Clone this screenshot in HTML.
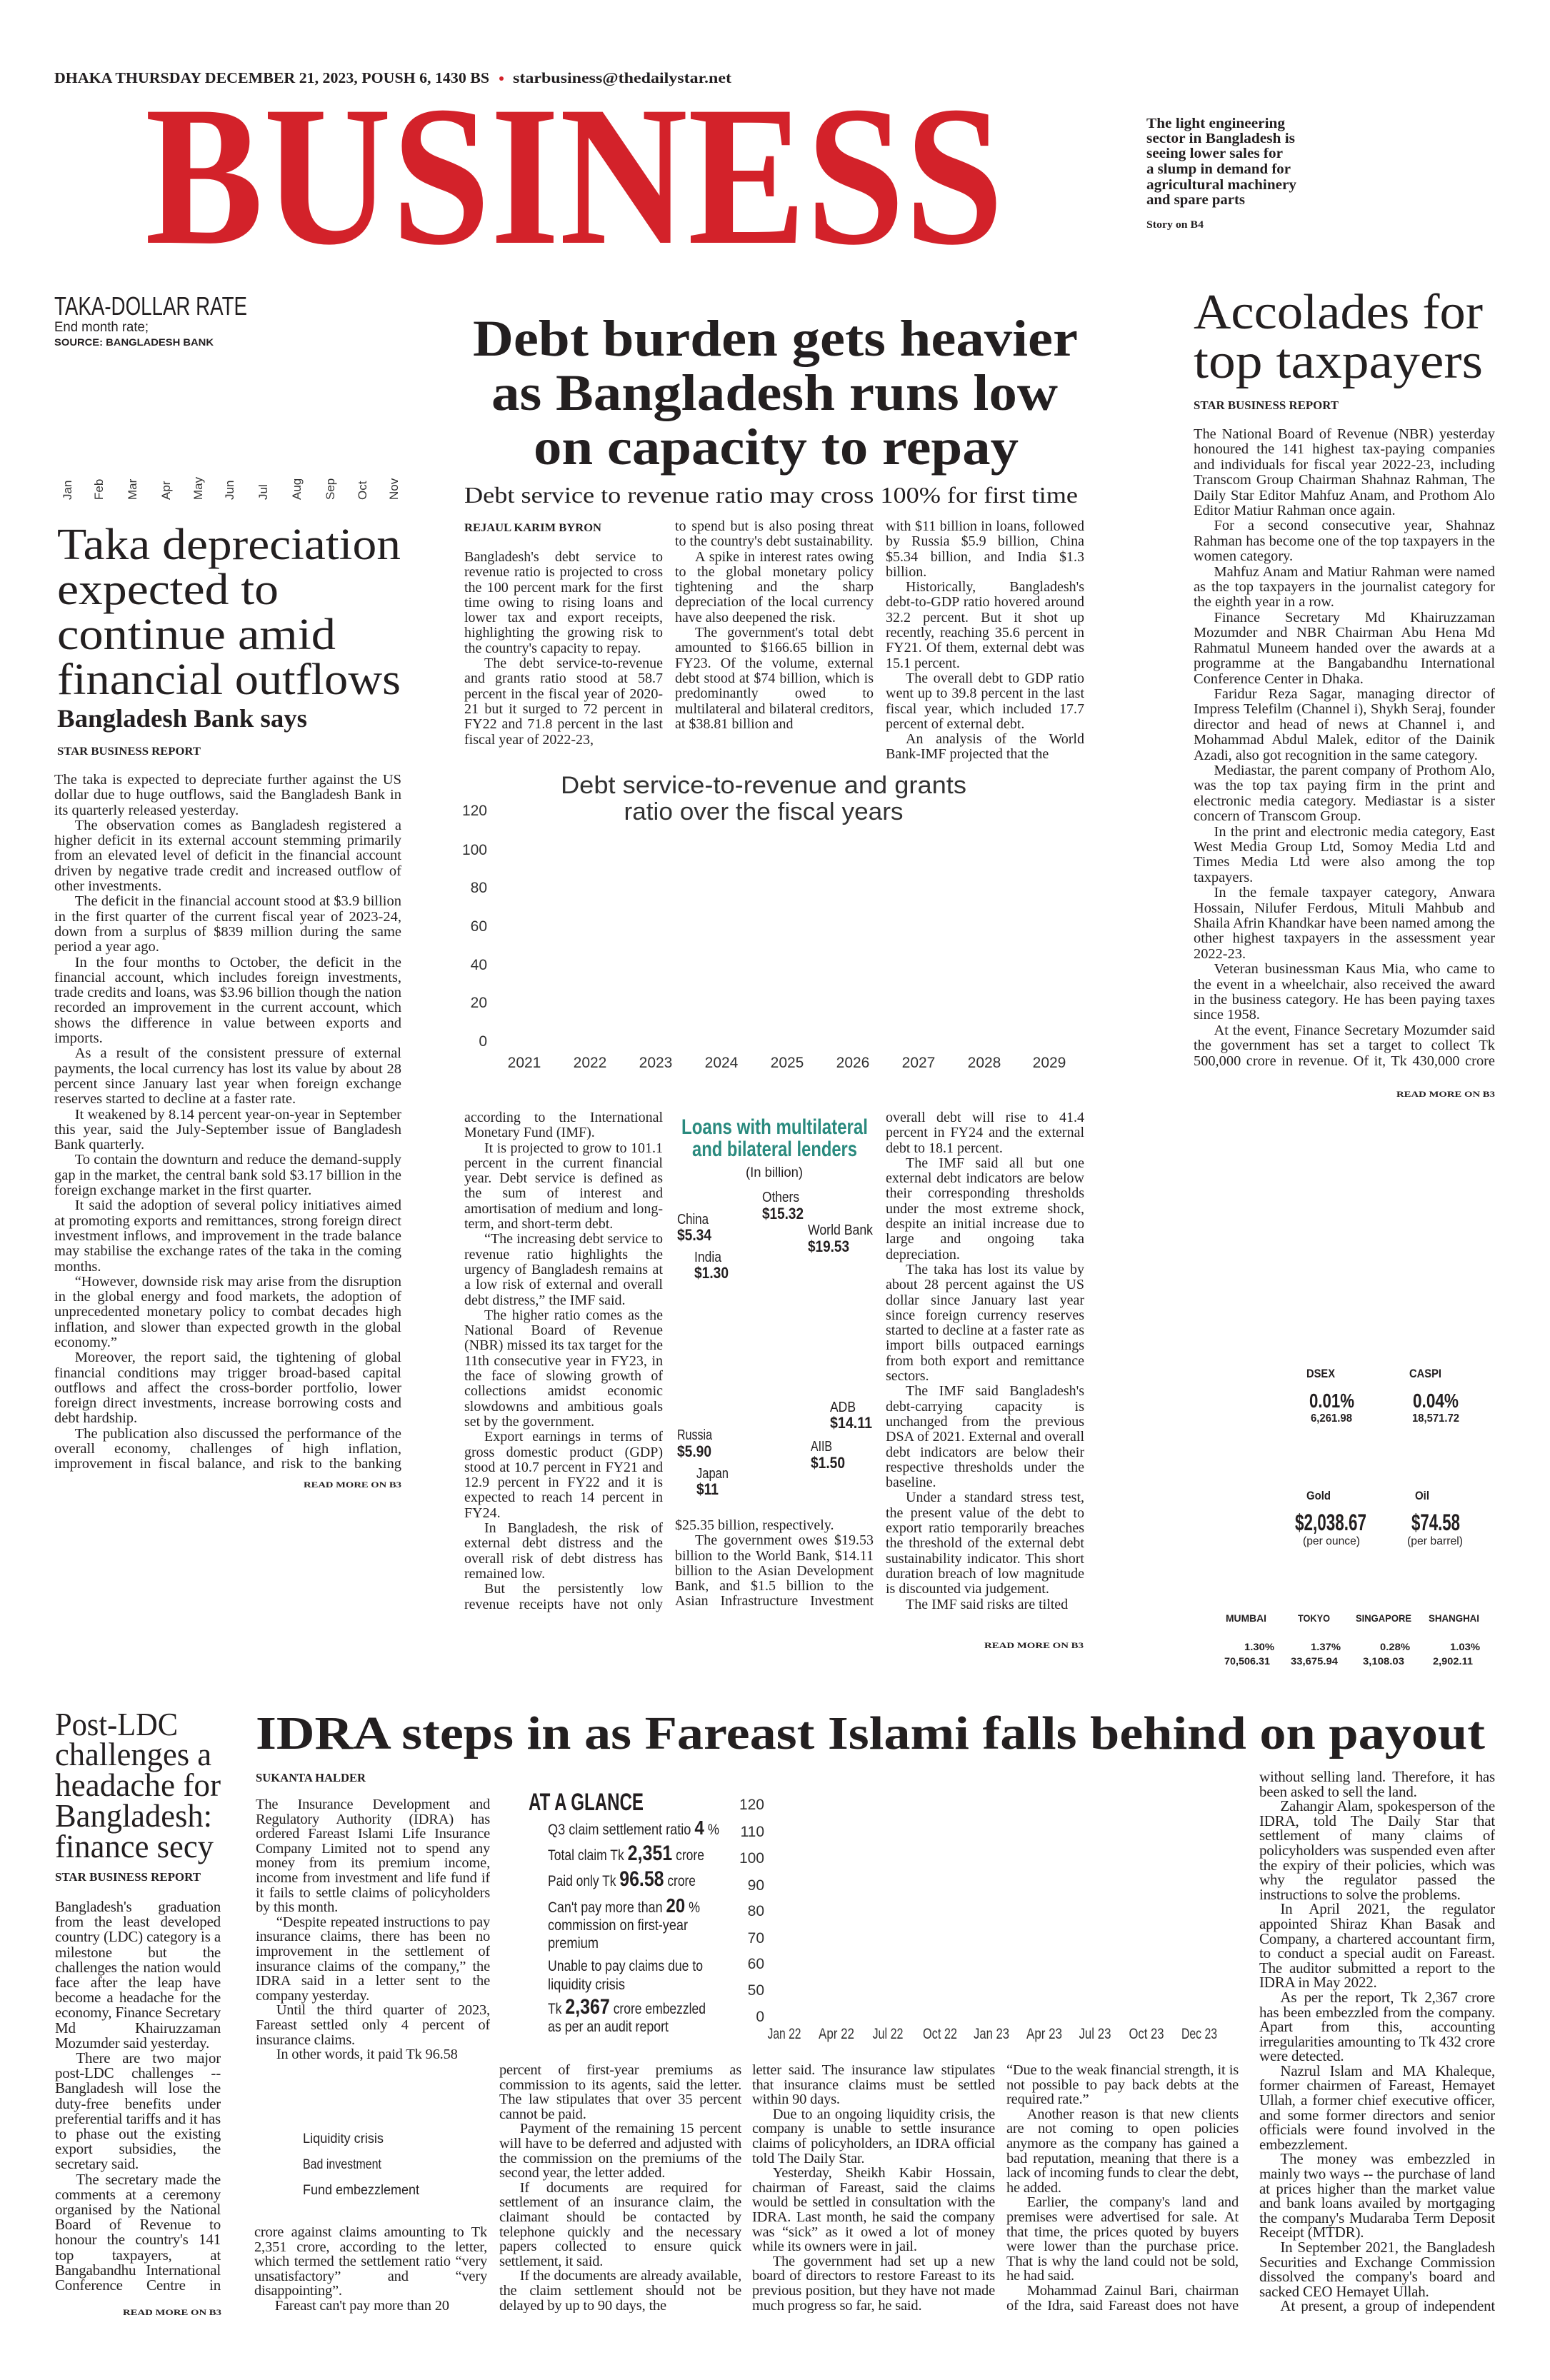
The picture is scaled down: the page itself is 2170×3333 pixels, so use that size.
<!DOCTYPE html>
<html><head><meta charset="utf-8">
<style>
html,body{margin:0;padding:0;background:#fff;}
body{width:2170px;height:3333px;position:relative;overflow:hidden;color:#231f20;}
.c{position:absolute;font-family:"Liberation Serif",serif;font-size:20px;line-height:21.3px;text-align:justify;overflow:hidden;color:#231f20;}
.c p{margin:0;text-indent:1.4em;}
.c p.n{text-indent:0;}
.l{font-size:20.5px;line-height:20.6px;letter-spacing:-0.2px;}
svg{position:absolute;left:0;top:0;}
</style></head><body>

<div class="c" style="left:76px;top:1082px;width:486px;height:980px;font-size:20.5px;">
<p class="n">The taka is expected to depreciate further against the US dollar due to huge outflows, said the Bangladesh Bank in its quarterly released yesterday.</p>
<p>The observation comes as Bangladesh registered a higher deficit in its external account stemming primarily from an elevated level of deficit in the financial account driven by negative trade credit and increased outflow of other investments.</p>
<p>The deficit in the financial account stood at $3.9 billion in the first quarter of the current fiscal year of 2023-24, down from a surplus of $839 million during the same period a year ago.</p>
<p>In the four months to October, the deficit in the financial account, which includes foreign investments, trade credits and loans, was $3.96 billion though the nation recorded an improvement in the current account, which shows the difference in value between exports and imports.</p>
<p>As a result of the consistent pressure of external payments, the local currency has lost its value by about 28 percent since January last year when foreign exchange reserves started to decline at a faster rate.</p>
<p>It weakened by 8.14 percent year-on-year in September this year, said the July-September issue of Bangladesh Bank quarterly.</p>
<p>To contain the downturn and reduce the demand-supply gap in the market, the central bank sold $3.17 billion in the foreign exchange market in the first quarter.</p>
<p>It said the adoption of several policy initiatives aimed at promoting exports and remittances, strong foreign direct investment inflows, and improvement in the trade balance may stabilise the exchange rates of the taka in the coming months.</p>
<p>“However, downside risk may arise from the disruption in the global energy and food markets, the adoption of unprecedented monetary policy to combat decades high inflation, and slower than expected growth in the global economy.”</p>
<p>Moreover, the report said, the tightening of global financial conditions may trigger broad-based capital outflows and affect the cross-border portfolio, lower foreign direct investments, increase borrowing costs and debt hardship.</p>
<p>The publication also discussed the performance of the overall economy, challenges of high inflation, improvement in fiscal balance, and risk to the banking sector owing to high non</p>
</div>

<div class="c" style="left:650px;top:770px;width:278px;height:299px;">
<p class="n">Bangladesh's debt service to revenue ratio is projected to cross the 100 percent mark for the first time owing to rising loans and lower tax and export receipts, highlighting the growing risk to the country's capacity to repay.</p>
<p>The debt service-to-revenue and grants ratio stood at 58.7 percent in the fiscal year of 2020-21 but it surged to 72 percent in FY22 and 71.8 percent in the last fiscal year of 2022-23,</p>
</div>
<div class="c" style="left:945px;top:727px;width:278px;height:342px;">
<p class="n">to spend but is also posing threat to the country's debt sustainability.</p>
<p>A spike in interest rates owing to the global monetary policy tightening and the sharp depreciation of the local currency have also deepened the risk.</p>
<p>The government's total debt amounted to $166.65 billion in FY23. Of the volume, external debt stood at $74 billion, which is predominantly owed to multilateral and bilateral creditors, at $38.81 billion and</p>
</div>
<div class="c" style="left:1240px;top:727px;width:278px;height:342px;">
<p class="n">with $11 billion in loans, followed by Russia $5.9 billion, China $5.34 billion, and India $1.3 billion.</p>
<p>Historically, Bangladesh's debt-to-GDP ratio hovered around 32.2 percent. But it shot up recently, reaching 35.6 percent in FY21. Of them, external debt was 15.1 percent.</p>
<p>The overall debt to GDP ratio went up to 39.8 percent in the last fiscal year, which included 17.7 percent of external debt.</p>
<p>An analysis of the World Bank-IMF projected that the</p>
</div>

<div class="c" style="left:650px;top:1555px;width:278px;height:704px;">
<p class="n">according to the International Monetary Fund (IMF).</p>
<p>It is projected to grow to 101.1 percent in the current financial year. Debt service is defined as the sum of interest and amortisation of medium and long-term, and short-term debt.</p>
<p>“The increasing debt service to revenue ratio highlights the urgency of Bangladesh remains at a low risk of external and overall debt distress,” the IMF said.</p>
<p>The higher ratio comes as the National Board of Revenue (NBR) missed its tax target for the 11th consecutive year in FY23, in the face of slowing growth of collections amidst economic slowdowns and ambitious goals set by the government.</p>
<p>Export earnings in terms of gross domestic product (GDP) stood at 10.7 percent in FY21 and 12.9 percent in FY22 and it is expected to reach 14 percent in FY24.</p>
<p>In Bangladesh, the risk of external debt distress and the overall risk of debt distress has remained low.</p>
<p>But the persistently low revenue receipts have not only limited the government's ability</p>
</div>
<div class="c" style="left:945px;top:2126px;width:278px;height:128px;">
<p class="n">$25.35 billion, respectively.</p>
<p>The government owes $19.53 billion to the World Bank, $14.11 billion to the Asian Development Bank, and $1.5 billion to the Asian Infrastructure Investment Bank.</p>
<p>Among the bilateral lenders, Japan is the biggest creditor</p>
</div>
<div class="c" style="left:1240px;top:1555px;width:278px;height:725px;">
<p class="n">overall debt will rise to 41.4 percent in FY24 and the external debt to 18.1 percent.</p>
<p>The IMF said all but one external debt indicators are below their corresponding thresholds under the most extreme shock, despite an initial increase due to large and ongoing taka depreciation.</p>
<p>The taka has lost its value by about 28 percent against the US dollar since January last year since foreign currency reserves started to decline at a faster rate as import bills outpaced earnings from both export and remittance sectors.</p>
<p>The IMF said Bangladesh's debt-carrying capacity is unchanged from the previous DSA of 2021. External and overall debt indicators are below their respective thresholds under the baseline.</p>
<p>Under a standard stress test, the present value of the debt to export ratio temporarily breaches the threshold of the external debt sustainability indicator. This short duration breach of low magnitude is discounted via judgement.</p>
<p>The IMF said risks are tilted</p>
</div>

<div class="c" style="left:1671px;top:598px;width:422px;height:898px;font-size:20.4px;line-height:21.4px;">
<p class="n">The National Board of Revenue (NBR) yesterday honoured the 141 highest tax-paying companies and individuals for fiscal year 2022-23, including Transcom Group Chairman Shahnaz Rahman, The Daily Star Editor Mahfuz Anam, and Prothom Alo Editor Matiur Rahman once again.</p>
<p>For a second consecutive year, Shahnaz Rahman has become one of the top taxpayers in the women category.</p>
<p>Mahfuz Anam and Matiur Rahman were named as the top taxpayers in the journalist category for the eighth year in a row.</p>
<p>Finance Secretary Md Khairuzzaman Mozumder and NBR Chairman Abu Hena Md Rahmatul Muneem handed over the awards at a programme at the Bangabandhu International Conference Center in Dhaka.</p>
<p>Faridur Reza Sagar, managing director of Impress Telefilm (Channel i), Shykh Seraj, founder director and head of news at Channel i, and Mohammad Abdul Malek, editor of the Dainik Azadi, also got recognition in the same category.</p>
<p>Mediastar, the parent company of Prothom Alo, was the top tax paying firm in the print and electronic media category. Mediastar is a sister concern of Transcom Group.</p>
<p>In the print and electronic media category, East West Media Group Ltd, Somoy Media Ltd and Times Media Ltd were also among the top taxpayers.</p>
<p>In the female taxpayer category, Anwara Hossain, Nilufer Ferdous, Mituli Mahbub and Shaila Afrin Khandkar have been named among the other highest taxpayers in the assessment year 2022-23.</p>
<p>Veteran businessman Kaus Mia, who came to the event in a wheelchair, also received the award in the business category. He has been paying taxes since 1958.</p>
<p>At the event, Finance Secretary Mozumder said the government has set a target to collect Tk 500,000 crore in revenue. Of it, Tk 430,000 crore will be collected by the NBR.</p>
</div>

<div class="c l" style="left:77px;top:2660px;width:232px;height:551px;font-size:21px;line-height:21.2px;">
<p class="n">Bangladesh's graduation from the least developed country (LDC) category is a milestone but the challenges the nation would face after the leap have become a headache for the economy, Finance Secretary Md Khairuzzaman Mozumder said yesterday.</p>
<p>There are two major post-LDC challenges -- Bangladesh will lose the duty-free benefits under preferential tariffs and it has to phase out the existing export subsidies, the secretary said.</p>
<p>The secretary made the comments at a ceremony organised by the National Board of Revenue to honour the country's 141 top taxpayers, at Bangabandhu International Conference Centre in Dhaka.</p>
</div>

<div class="c l" style="left:358px;top:2517px;width:328px;height:370px;">
<p class="n">The Insurance Development and Regulatory Authority (IDRA) has ordered Fareast Islami Life Insurance Company Limited not to spend any money from its premium income, income from investment and life fund if it fails to settle claims of policyholders by this month.</p>
<p>“Despite repeated instructions to pay insurance claims, there has been no improvement in the settlement of insurance claims of the company,” the IDRA said in a letter sent to the company yesterday.</p>
<p>Until the third quarter of 2023, Fareast settled only 4 percent of insurance claims.</p>
<p>In other words, it paid Tk 96.58</p>
</div>
<div class="c l" style="left:356px;top:3116px;width:326px;height:125px;">
<p class="n">crore against claims amounting to Tk 2,351 crore, according to the letter, which termed the settlement ratio “very unsatisfactory” and “very disappointing”.</p>
<p>Fareast can't pay more than 20</p>
</div>
<div class="c l" style="left:699px;top:2889px;width:339px;height:350px;">
<p class="n">percent of first-year premiums as commission to its agents, said the letter. The law stipulates that over 35 percent cannot be paid.</p>
<p>Payment of the remaining 15 percent will have to be deferred and adjusted with the commission on the premiums of the second year, the letter added.</p>
<p>If documents are required for settlement of an insurance claim, the claimant should be contacted by telephone quickly and the necessary papers collected to ensure quick settlement, it said.</p>
<p>If the documents are already available, the claim settlement should not be delayed by up to 90 days, the</p>
</div>
<div class="c l" style="left:1053px;top:2889px;width:340px;height:350px;">
<p class="n">letter said. The insurance law stipulates that insurance claims must be settled within 90 days.</p>
<p>Due to an ongoing liquidity crisis, the company is unable to settle insurance claims of policyholders, an IDRA official told The Daily Star.</p>
<p>Yesterday, Sheikh Kabir Hossain, chairman of Fareast, said the claims would be settled in consultation with the IDRA. Last month, he said the company was “sick” as it owed a lot of money while its owners were in jail.</p>
<p>The government had set up a new board of directors to restore Fareast to its previous position, but they have not made much progress so far, he said.</p>
</div>
<div class="c l" style="left:1409px;top:2889px;width:325px;height:350px;">
<p class="n">“Due to the weak financial strength, it is not possible to pay back debts at the required rate.”</p>
<p>Another reason is that new clients are not coming to open policies anymore as the company has gained a bad reputation, meaning that there is a lack of incoming funds to clear the debt, he added.</p>
<p>Earlier, the company's land and premises were advertised for sale. At that time, the prices quoted by buyers were lower than the purchase price. That is why the land could not be sold, he had said.</p>
<p>Mohammad Zainul Bari, chairman of the Idra, said Fareast does not have the ability to pay insurance claims</p>
</div>
<div class="c l" style="left:1763px;top:2478px;width:330px;height:762px;font-size:21px;">
<p class="n">without selling land. Therefore, it has been asked to sell the land.</p>
<p>Zahangir Alam, spokesperson of the IDRA, told The Daily Star that settlement of many claims of policyholders was suspended even after the expiry of their policies, which was why the regulator passed the instructions to solve the problems.</p>
<p>In April 2021, the regulator appointed Shiraz Khan Basak and Company, a chartered accountant firm, to conduct a special audit on Fareast. The auditor submitted a report to the IDRA in May 2022.</p>
<p>As per the report, Tk 2,367 crore has been embezzled from the company. Apart from this, accounting irregularities amounting to Tk 432 crore were detected.</p>
<p>Nazrul Islam and MA Khaleque, former chairmen of Fareast, Hemayet Ullah, a former chief executive officer, and some former directors and senior officials were found involved in the embezzlement.</p>
<p>The money was embezzled in mainly two ways -- the purchase of land at prices higher than the market value and bank loans availed by mortgaging the company's Mudaraba Term Deposit Receipt (MTDR).</p>
<p>In September 2021, the Bangladesh Securities and Exchange Commission dissolved the company's board and sacked CEO Hemayet Ullah.</p>
<p>At present, a group of independent directors run Fareast.</p>
</div>

<svg width="2170" height="3333" viewBox="0 0 2170 3333" xmlns="http://www.w3.org/2000/svg" font-family="Liberation Serif, serif" fill="#231f20">
<text x="76" y="116" font-size="21" font-weight="bold" textLength="609" lengthAdjust="spacingAndGlyphs">DHAKA THURSDAY DECEMBER 21, 2023, POUSH 6, 1430 BS</text>
<circle cx="702" cy="110" r="3" fill="#d3222a"/>
<text x="718" y="116" font-size="21" font-weight="bold" textLength="306" lengthAdjust="spacingAndGlyphs">starbusiness@thedailystar.net</text>
<text x="203" y="340" font-size="280" font-weight="bold" fill="#d3222a" textLength="1202" lengthAdjust="spacingAndGlyphs">BUSINESS</text>
<g font-size="20" font-weight="bold">
<text x="1605" y="179" textLength="194" lengthAdjust="spacingAndGlyphs">The light engineering</text>
<text x="1605" y="200" textLength="208" lengthAdjust="spacingAndGlyphs">sector in Bangladesh is</text>
<text x="1605" y="221" textLength="191" lengthAdjust="spacingAndGlyphs">seeing lower sales for</text>
<text x="1605" y="243" textLength="202" lengthAdjust="spacingAndGlyphs">a slump in demand for</text>
<text x="1605" y="265" textLength="210" lengthAdjust="spacingAndGlyphs">agricultural machinery</text>
<text x="1605" y="286" textLength="138" lengthAdjust="spacingAndGlyphs">and spare parts</text>
</g>
<text x="1605" y="319" font-size="15" font-weight="bold" textLength="80" lengthAdjust="spacingAndGlyphs">Story on B4</text>

<g font-family="Liberation Sans, sans-serif">
<text x="76" y="441" font-size="36" textLength="270" lengthAdjust="spacingAndGlyphs">TAKA-DOLLAR RATE</text>
<text x="76" y="464" font-size="19" textLength="132" lengthAdjust="spacingAndGlyphs">End month rate;</text>
<text x="76" y="484" font-size="14" font-weight="bold" textLength="223" lengthAdjust="spacingAndGlyphs">SOURCE: BANGLADESH BANK</text>
<g font-size="17" fill="#333">
<text transform="translate(100,700) rotate(-90)">Jan</text>
<text transform="translate(144,700) rotate(-90)">Feb</text>
<text transform="translate(191,700) rotate(-90)">Mar</text>
<text transform="translate(238,700) rotate(-90)">Apr</text>
<text transform="translate(283,700) rotate(-90)">May</text>
<text transform="translate(327,700) rotate(-90)">Jun</text>
<text transform="translate(374,700) rotate(-90)">Jul</text>
<text transform="translate(421,700) rotate(-90)">Aug</text>
<text transform="translate(468,700) rotate(-90)">Sep</text>
<text transform="translate(513,700) rotate(-90)">Oct</text>
<text transform="translate(557,700) rotate(-90)">Nov</text>
</g>
</g>
<g font-size="62">
<text x="80" y="783" textLength="481" lengthAdjust="spacingAndGlyphs">Taka depreciation</text>
<text x="80" y="846" textLength="310" lengthAdjust="spacingAndGlyphs">expected to</text>
<text x="80" y="909" textLength="390" lengthAdjust="spacingAndGlyphs">continue amid</text>
<text x="80" y="972" textLength="481" lengthAdjust="spacingAndGlyphs">financial outflows</text>
</g>
<text x="80" y="1018" font-size="36" font-weight="bold" textLength="350" lengthAdjust="spacingAndGlyphs">Bangladesh Bank says</text>
<text x="80" y="1057" font-size="16" font-weight="bold" textLength="201" lengthAdjust="spacingAndGlyphs">STAR BUSINESS REPORT</text>
<text x="425" y="2083" font-size="12" font-weight="bold" textLength="137" lengthAdjust="spacingAndGlyphs">READ MORE ON B3</text>

<g font-size="72" font-weight="bold">
<text x="662" y="498" textLength="847" lengthAdjust="spacingAndGlyphs">Debt burden gets heavier</text>
<text x="688" y="574" textLength="793" lengthAdjust="spacingAndGlyphs">as Bangladesh runs low</text>
<text x="747" y="650" textLength="679" lengthAdjust="spacingAndGlyphs">on capacity to repay</text>
</g>
<text x="650" y="704" font-size="32" textLength="859" lengthAdjust="spacingAndGlyphs">Debt service to revenue ratio may cross 100% for first time</text>
<text x="650" y="744" font-size="16" font-weight="bold" textLength="192" lengthAdjust="spacingAndGlyphs">REJAUL KARIM BYRON</text>

<g font-family="Liberation Sans, sans-serif" fill="#333">
<text x="1069" y="1111" font-size="34" text-anchor="middle" textLength="568" lengthAdjust="spacingAndGlyphs">Debt service-to-revenue and grants</text>
<text x="1069" y="1148" font-size="34" text-anchor="middle" textLength="391" lengthAdjust="spacingAndGlyphs">ratio over the fiscal years</text>
<g font-size="21" text-anchor="end">
<text x="682" y="1142">120</text><text x="682" y="1197">100</text><text x="682" y="1250">80</text>
<text x="682" y="1304">60</text><text x="682" y="1358">40</text><text x="682" y="1411">20</text><text x="682" y="1465">0</text>
</g>
<g font-size="21" text-anchor="middle">
<text x="734" y="1495">2021</text><text x="826" y="1495">2022</text><text x="918" y="1495">2023</text>
<text x="1010" y="1495">2024</text><text x="1102" y="1495">2025</text><text x="1194" y="1495">2026</text>
<text x="1286" y="1495">2027</text><text x="1378" y="1495">2028</text><text x="1469" y="1495">2029</text>
</g>
</g>

<g font-family="Liberation Sans, sans-serif">
<text x="954" y="1588" font-size="30" font-weight="bold" fill="#2a8a7e" textLength="261" lengthAdjust="spacingAndGlyphs">Loans with multilateral</text>
<text x="969" y="1619" font-size="30" font-weight="bold" fill="#2a8a7e" textLength="231" lengthAdjust="spacingAndGlyphs">and bilateral lenders</text>
<text x="1084" y="1648" font-size="19" text-anchor="middle" textLength="80" lengthAdjust="spacingAndGlyphs">(In billion)</text>
<g font-size="20">
<text x="1067" y="1683" textLength="52" lengthAdjust="spacingAndGlyphs">Others</text>
<text x="948" y="1714" textLength="44" lengthAdjust="spacingAndGlyphs">China</text>
<text x="1131" y="1729" textLength="91" lengthAdjust="spacingAndGlyphs">World Bank</text>
<text x="972" y="1767" textLength="38" lengthAdjust="spacingAndGlyphs">India</text>
<text x="1162" y="1977" textLength="36" lengthAdjust="spacingAndGlyphs">ADB</text>
<text x="948" y="2016" textLength="49" lengthAdjust="spacingAndGlyphs">Russia</text>
<text x="1135" y="2032" textLength="30" lengthAdjust="spacingAndGlyphs">AIIB</text>
<text x="975" y="2070" textLength="45" lengthAdjust="spacingAndGlyphs">Japan</text>
</g>
<g font-size="22" font-weight="bold">
<text x="1067" y="1707" textLength="58" lengthAdjust="spacingAndGlyphs">$15.32</text>
<text x="948" y="1737" textLength="48" lengthAdjust="spacingAndGlyphs">$5.34</text>
<text x="1131" y="1753" textLength="58" lengthAdjust="spacingAndGlyphs">$19.53</text>
<text x="972" y="1790" textLength="48" lengthAdjust="spacingAndGlyphs">$1.30</text>
<text x="1162" y="2000" textLength="59" lengthAdjust="spacingAndGlyphs">$14.11</text>
<text x="948" y="2040" textLength="48" lengthAdjust="spacingAndGlyphs">$5.90</text>
<text x="1135" y="2056" textLength="48" lengthAdjust="spacingAndGlyphs">$1.50</text>
<text x="975" y="2093" textLength="31" lengthAdjust="spacingAndGlyphs">$11</text>
</g>
</g>
<text x="1378" y="2308" font-size="12" font-weight="bold" textLength="139" lengthAdjust="spacingAndGlyphs">READ MORE ON B3</text>

<text x="1671" y="460" font-size="70" textLength="405" lengthAdjust="spacingAndGlyphs">Accolades for</text>
<text x="1671" y="529" font-size="70" textLength="405" lengthAdjust="spacingAndGlyphs">top taxpayers</text>
<text x="1671" y="573" font-size="17" font-weight="bold" textLength="203" lengthAdjust="spacingAndGlyphs">STAR BUSINESS REPORT</text>
<text x="1955" y="1536" font-size="12" font-weight="bold" textLength="138" lengthAdjust="spacingAndGlyphs">READ MORE ON B3</text>

<g font-family="Liberation Sans, sans-serif" font-weight="bold" fill="#231f20">
<text x="1829" y="1929" font-size="17" textLength="40" lengthAdjust="spacingAndGlyphs">DSEX</text>
<text x="1973" y="1929" font-size="17" textLength="45" lengthAdjust="spacingAndGlyphs">CASPI</text>
<text x="1833" y="1971" font-size="28" textLength="63" lengthAdjust="spacingAndGlyphs">0.01%</text>
<text x="1978" y="1971" font-size="28" textLength="64" lengthAdjust="spacingAndGlyphs">0.04%</text>
<text x="1835" y="1991" font-size="16" textLength="58" lengthAdjust="spacingAndGlyphs">6,261.98</text>
<text x="1977" y="1991" font-size="16" textLength="66" lengthAdjust="spacingAndGlyphs">18,571.72</text>
<text x="1829" y="2100" font-size="17" textLength="34" lengthAdjust="spacingAndGlyphs">Gold</text>
<text x="1981" y="2100" font-size="17" textLength="20" lengthAdjust="spacingAndGlyphs">Oil</text>
<text x="1813" y="2143" font-size="32" textLength="100" lengthAdjust="spacingAndGlyphs">$2,038.67</text>
<text x="1976" y="2143" font-size="32" textLength="68" lengthAdjust="spacingAndGlyphs">$74.58</text>
<text x="1824" y="2163" font-size="16" font-weight="normal" textLength="80" lengthAdjust="spacingAndGlyphs">(per ounce)</text>
<text x="1970" y="2163" font-size="16" font-weight="normal" textLength="78" lengthAdjust="spacingAndGlyphs">(per barrel)</text>
<g font-size="14">
<text x="1716" y="2271" textLength="57" lengthAdjust="spacingAndGlyphs">MUMBAI</text>
<text x="1817" y="2271" textLength="45" lengthAdjust="spacingAndGlyphs">TOKYO</text>
<text x="1898" y="2271" textLength="78" lengthAdjust="spacingAndGlyphs">SINGAPORE</text>
<text x="2000" y="2271" textLength="71" lengthAdjust="spacingAndGlyphs">SHANGHAI</text>
<text x="1742" y="2311" textLength="42" lengthAdjust="spacingAndGlyphs">1.30%</text>
<text x="1835" y="2311" textLength="42" lengthAdjust="spacingAndGlyphs">1.37%</text>
<text x="1932" y="2311" textLength="42" lengthAdjust="spacingAndGlyphs">0.28%</text>
<text x="2030" y="2311" textLength="42" lengthAdjust="spacingAndGlyphs">1.03%</text>
<text x="1714" y="2331" textLength="64" lengthAdjust="spacingAndGlyphs">70,506.31</text>
<text x="1807" y="2331" textLength="66" lengthAdjust="spacingAndGlyphs">33,675.94</text>
<text x="1908" y="2331" textLength="58" lengthAdjust="spacingAndGlyphs">3,108.03</text>
<text x="2006" y="2331" textLength="56" lengthAdjust="spacingAndGlyphs">2,902.11</text>
</g>
</g>

<g font-size="45">
<text x="77" y="2430" textLength="172" lengthAdjust="spacingAndGlyphs">Post-LDC</text>
<text x="77" y="2472" textLength="219" lengthAdjust="spacingAndGlyphs">challenges a</text>
<text x="77" y="2515" textLength="232" lengthAdjust="spacingAndGlyphs">headache for</text>
<text x="77" y="2558" textLength="220" lengthAdjust="spacingAndGlyphs">Bangladesh:</text>
<text x="77" y="2601" textLength="222" lengthAdjust="spacingAndGlyphs">finance secy</text>
</g>
<text x="77" y="2634" font-size="17" font-weight="bold" textLength="204" lengthAdjust="spacingAndGlyphs">STAR BUSINESS REPORT</text>
<text x="172" y="3242" font-size="12" font-weight="bold" textLength="138" lengthAdjust="spacingAndGlyphs">READ MORE ON B3</text>

<text x="358" y="2449" font-size="66" font-weight="bold" textLength="1721" lengthAdjust="spacingAndGlyphs">IDRA steps in as Fareast Islami falls behind on payout</text>
<text x="358" y="2495" font-size="17" font-weight="bold" textLength="154" lengthAdjust="spacingAndGlyphs">SUKANTA HALDER</text>

<g font-family="Liberation Sans, sans-serif">
<text x="740" y="2535" font-size="34" font-weight="bold" textLength="161" lengthAdjust="spacingAndGlyphs">AT A GLANCE</text>
<g font-size="21">
<text x="767" y="2569" textLength="240" lengthAdjust="spacingAndGlyphs">Q3 claim settlement ratio <tspan font-weight="bold" font-size="28">4</tspan> %</text>
<text x="767" y="2605" textLength="219" lengthAdjust="spacingAndGlyphs">Total claim Tk <tspan font-weight="bold" font-size="30">2,351</tspan> crore</text>
<text x="767" y="2641" textLength="207" lengthAdjust="spacingAndGlyphs">Paid only Tk <tspan font-weight="bold" font-size="30">96.58</tspan> crore</text>
<text x="767" y="2678" textLength="213" lengthAdjust="spacingAndGlyphs">Can't pay more than <tspan font-weight="bold" font-size="28">20</tspan> %</text>
<text x="767" y="2703" textLength="196" lengthAdjust="spacingAndGlyphs">commission on first-year</text>
<text x="767" y="2728" textLength="71" lengthAdjust="spacingAndGlyphs">premium</text>
<text x="767" y="2760" textLength="217" lengthAdjust="spacingAndGlyphs">Unable to pay claims due to</text>
<text x="767" y="2786" textLength="108" lengthAdjust="spacingAndGlyphs">liquidity crisis</text>
<text x="767" y="2820" textLength="221" lengthAdjust="spacingAndGlyphs">Tk <tspan font-weight="bold" font-size="30">2,367</tspan> crore embezzled</text>
<text x="767" y="2845" textLength="169" lengthAdjust="spacingAndGlyphs">as per an audit report</text>
</g>
<g font-size="21" text-anchor="end" fill="#333">
<text x="1070" y="2534">120</text><text x="1070" y="2572">110</text><text x="1070" y="2609">100</text>
<text x="1070" y="2647">90</text><text x="1070" y="2683">80</text><text x="1070" y="2721">70</text>
<text x="1070" y="2757">60</text><text x="1070" y="2794">50</text><text x="1070" y="2831">0</text>
</g>
<g font-size="21" text-anchor="middle" fill="#333">
<text x="1098" y="2855" textLength="47" lengthAdjust="spacingAndGlyphs">Jan 22</text>
<text x="1171" y="2855" textLength="50" lengthAdjust="spacingAndGlyphs">Apr 22</text>
<text x="1243" y="2855" textLength="43" lengthAdjust="spacingAndGlyphs">Jul 22</text>
<text x="1316" y="2855" textLength="48" lengthAdjust="spacingAndGlyphs">Oct 22</text>
<text x="1388" y="2855" textLength="50" lengthAdjust="spacingAndGlyphs">Jan 23</text>
<text x="1462" y="2855" textLength="50" lengthAdjust="spacingAndGlyphs">Apr 23</text>
<text x="1533" y="2855" textLength="45" lengthAdjust="spacingAndGlyphs">Jul 23</text>
<text x="1605" y="2855" textLength="49" lengthAdjust="spacingAndGlyphs">Oct 23</text>
<text x="1679" y="2855" textLength="50" lengthAdjust="spacingAndGlyphs">Dec 23</text>
</g>
<g font-size="19">
<text x="424" y="3001" textLength="113" lengthAdjust="spacingAndGlyphs">Liquidity crisis</text>
<text x="424" y="3037" textLength="110" lengthAdjust="spacingAndGlyphs">Bad investment</text>
<text x="424" y="3073" textLength="163" lengthAdjust="spacingAndGlyphs">Fund embezzlement</text>
</g>
</g>
</svg>
</body></html>
